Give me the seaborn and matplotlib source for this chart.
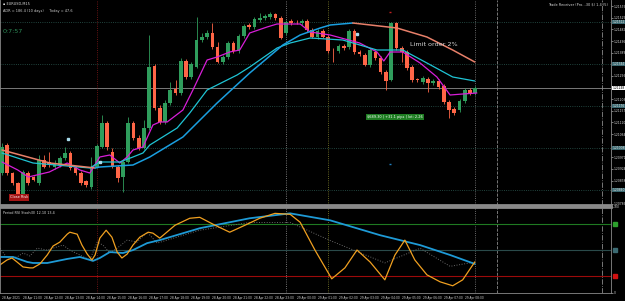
import numpy as np
import pandas as pd
import matplotlib.pyplot as plt
import seaborn as sns

# EURUSD M15 candles (28 Apr 10:00 -> 29 Apr 08:30)
opens = [1.20908, 1.21020, 1.20908, 1.20868, 1.20820, 1.20908, 1.20892, 1.20868, 1.20960, 1.20952,
         1.20932, 1.20940, 1.20968, 1.20988, 1.20928, 1.20908, 1.20876, 1.20852, 1.20932, 1.21012,
         1.21108, 1.20992, 1.20932, 1.20892, 1.20952, 1.21108, 1.21048, 1.21008, 1.21088, 1.21336,
         1.21168, 1.21112, 1.21188, 1.21244, 1.21228, 1.21356, 1.21292, 1.21332, 1.21440, 1.21452,
         1.21468, 1.21412, 1.21352, 1.21372, 1.21428, 1.21396, 1.21456, 1.21500, 1.21492, 1.21520,
         1.21528, 1.21532, 1.21544, 1.21528, 1.21468, 1.21516, 1.21512, 1.21508, 1.21516, 1.21480,
         1.21452, 1.21476, 1.21452, 1.21400, 1.21396, 1.21416, 1.21412, 1.21476, 1.21392, 1.21380,
         1.21340, 1.21392, 1.21368, 1.21312, 1.21280, 1.21508, 1.21408, 1.21392, 1.21332, 1.21282,
         1.21272, 1.21284, 1.21268, 1.21276, 1.21256, 1.21192, 1.21164, 1.21160, 1.21196, 1.21240,
         1.21228]
highs = [1.21028, 1.21028, 1.20912, 1.20872, 1.20920, 1.20916, 1.20896, 1.20980, 1.20980, 1.20992,
         1.20960, 1.20976, 1.21012, 1.20996, 1.20936, 1.20916, 1.20880, 1.20972, 1.21024, 1.21140,
         1.21116, 1.21008, 1.20940, 1.20960, 1.21132, 1.21116, 1.21060, 1.21120, 1.21460, 1.21344,
         1.21180, 1.21200, 1.21272, 1.21280, 1.21368, 1.21364, 1.21352, 1.21532, 1.21468, 1.21480,
         1.21508, 1.21432, 1.21380, 1.21436, 1.21436, 1.21464, 1.21504, 1.21508, 1.21532, 1.21548,
         1.21544, 1.21552, 1.21548, 1.21536, 1.21520, 1.21524, 1.21520, 1.21524, 1.21524, 1.21488,
         1.21484, 1.21484, 1.21460, 1.21408, 1.21424, 1.21424, 1.21484, 1.21484, 1.21400, 1.21388,
         1.21408, 1.21400, 1.21376, 1.21320, 1.21512, 1.21512, 1.21416, 1.21400, 1.21340, 1.21288,
         1.21296, 1.21292, 1.21284, 1.21284, 1.21264, 1.21200, 1.21172, 1.21204, 1.21248, 1.21248,
         1.21256]
lows = [1.20900, 1.20900, 1.20860, 1.20808, 1.20816, 1.20860, 1.20876, 1.20860, 1.20928, 1.20932,
        1.20924, 1.20932, 1.20960, 1.20920, 1.20900, 1.20860, 1.20852, 1.20844, 1.20928, 1.21008,
        1.21000, 1.20928, 1.20872, 1.20832, 1.20948, 1.21040, 1.21000, 1.21004, 1.21080, 1.21160,
        1.21104, 1.21104, 1.21180, 1.21220, 1.21220, 1.21284, 1.21284, 1.21328, 1.21432, 1.21444,
        1.21404, 1.21348, 1.21344, 1.21364, 1.21388, 1.21388, 1.21448, 1.21484, 1.21484, 1.21512,
        1.21520, 1.21524, 1.21520, 1.21444, 1.21460, 1.21500, 1.21504, 1.21500, 1.21472, 1.21448,
        1.21444, 1.21448, 1.21388, 1.21352, 1.21388, 1.21400, 1.21404, 1.21384, 1.21376, 1.21336,
        1.21332, 1.21360, 1.21304, 1.21240, 1.21276, 1.21400, 1.21352, 1.21320, 1.21272, 1.21272,
        1.21264, 1.21232, 1.21260, 1.21244, 1.21184, 1.21128, 1.21140, 1.21152, 1.21188, 1.21220,
        1.21220]
closes = [1.21012, 1.20908, 1.20868, 1.20812, 1.20912, 1.20868, 1.20880, 1.20960, 1.20932, 1.20944,
          1.20948, 1.20968, 1.20988, 1.20928, 1.20908, 1.20868, 1.20860, 1.20932, 1.21016, 1.21108,
          1.21012, 1.20932, 1.20888, 1.20952, 1.21108, 1.21048, 1.21008, 1.21088, 1.21332, 1.21168,
          1.21112, 1.21188, 1.21240, 1.21228, 1.21356, 1.21292, 1.21344, 1.21440, 1.21452, 1.21468,
          1.21412, 1.21352, 1.21372, 1.21428, 1.21396, 1.21456, 1.21496, 1.21492, 1.21524, 1.21528,
          1.21536, 1.21544, 1.21528, 1.21448, 1.21512, 1.21508, 1.21510, 1.21516, 1.21480, 1.21452,
          1.21476, 1.21452, 1.21396, 1.21398, 1.21416, 1.21408, 1.21476, 1.21392, 1.21384, 1.21340,
          1.21400, 1.21368, 1.21312, 1.21276, 1.21508, 1.21408, 1.21392, 1.21328, 1.21280, 1.21280,
          1.21288, 1.21268, 1.21276, 1.21252, 1.21192, 1.21160, 1.21148, 1.21196, 1.21240, 1.21228,
          1.21248]

# moving averages (candle index, price)
fast_x = [0, 3, 5, 9, 12.4, 14.8, 16.7, 18.6, 20.5, 22.4, 23.8, 24.9, 26.8, 28.7, 30, 31.4, 34.4, 36.3,
          39, 40.9, 43.3, 45.2, 47.1, 50.4, 52.3, 56.7, 58.6, 62.4, 68, 71.3, 72.6, 73.8, 76.2, 79.5,
          82.7, 85.2, 87.6, 90.3]
fast_y = [1.20952, 1.20920, 1.20892, 1.20912, 1.20948, 1.20920, 1.20908, 1.20972, 1.20980, 1.20948,
          1.20972, 1.21000, 1.21012, 1.21100, 1.21112, 1.21112, 1.21160, 1.21240, 1.21360, 1.21372,
          1.21392, 1.21400, 1.21468, 1.21492, 1.21504, 1.21504, 1.21472, 1.21460, 1.21428, 1.21392,
          1.21356, 1.21392, 1.21392, 1.21348, 1.21292, 1.21220, 1.21224, 1.21228]
mid_x = [0, 5.9, 12.4, 16.7, 18.6, 22.4, 24.9, 26.8, 28.1, 33.3, 35.7, 39, 40.9, 44.7, 47.1, 52.3,
         54.8, 58.6, 64.8, 71.3, 76.2, 80.8, 85.7, 89.9]
mid_y = [1.20988, 1.20948, 1.20936, 1.20928, 1.20952, 1.20952, 1.20972, 1.20988, 1.21020, 1.21088,
         1.21148, 1.21240, 1.21260, 1.21300, 1.21332, 1.21408, 1.21428, 1.21448, 1.21440, 1.21400,
         1.21400, 1.21348, 1.21292, 1.21276]
slow_x = [0, 9.1, 17.7, 18.6, 24.9, 28.1, 34.4, 40.9, 47.1, 53.4, 56.7, 60.5, 62.4, 66.7, 75.1,
          80.8, 85.7, 89.9]
slow_y = [1.21000, 1.20948, 1.20928, 1.20932, 1.20940, 1.20972, 1.21052, 1.21188, 1.21308, 1.21420,
          1.21460, 1.21488, 1.21500, 1.21508, 1.21488, 1.21452, 1.21400, 1.21352]

# oscillator panel
osc_x = [-0.4, 0.95, 1.9, 2.85, 4.0, 5.3, 5.9, 7.2, 8.6, 9.7, 11.0, 12.4, 12.9, 14.3, 15.2, 16.2,
         17.1, 17.7, 18.6, 19.8, 20.9, 21.9, 22.8, 23.8, 24.9, 26.2, 27.8, 28.7, 30.0, 32.9, 35.7,
         37.6, 40.5, 43.3, 46.2, 49.0, 51.9, 54.8, 56.7, 59.5, 62.7, 65.2, 67.5, 70.0, 72.8, 74.7,
         76.6, 78.5, 80.8, 83.3, 85.7, 87.6, 89.9]
osc_v = [32.6, 38.4, 40.7, 36.1, 30.3, 29.2, 29.2, 33.8, 44.2, 54.6, 59.2, 68.4, 70.7, 68.4, 55.7,
         45.3, 38.4, 44.2, 63.8, 73.0, 64.9, 47.6, 40.7, 45.3, 55.7, 64.9, 70.7, 69.6, 63.8, 78.8,
         86.9, 88.0, 78.8, 70.7, 78.8, 86.9, 92.6, 91.5, 82.2, 50.0, 16.5, 29.2, 50.0, 36.0, 15.3,
         44.0, 61.5, 38.4, 21.1, 13.0, 8.4, 15.3, 36.1]
sig_x = [-0.4, 2.1, 4.8, 5.9, 8.6, 12.4, 14.8, 17.3, 18.6, 20.5, 23.0, 24.9, 27.6, 30.0, 37.6, 47.1,
         54.8, 62.4, 71.9, 79.5, 85.2, 89.9]
sig_v = [41.9, 41.9, 36.1, 34.9, 34.9, 39.6, 41.9, 37.3, 40.7, 47.6, 46.5, 49.9, 58.0, 61.5, 75.3,
         86.9, 92.6, 84.5, 67.2, 55.7, 44.2, 33.8]
dot_x = [-0.4, 0.95, 2.85, 4.0, 5.3, 6.7, 8.6, 9.7, 11.6, 12.9, 14.8, 16.7, 18.1, 19.2, 20.5, 21.9,
         23.8, 25.7, 27.6, 29.5, 37.6, 47.1, 54.8, 62.4, 72.8, 79.5, 85.2, 89.9]
dot_v = [52.2, 40.7, 41.9, 46.5, 43.0, 52.2, 49.9, 52.2, 55.7, 49.9, 44.2, 38.4, 59.2, 55.7, 46.5,
         52.2, 61.5, 59.2, 70.7, 58.0, 73.0, 82.0, 82.0, 61.0, 35.0, 52.0, 31.0, 36.0]

level_prices = [1.21512, 1.21344, 1.21176, 1.21008, 1.20840]
vlines = [(18, '#8b1a1a', ':'), (54, '#9a9a9a', ':'), (62, '#8a8a30', ':'),
          (90, '#8a8a8a', ':'), (94.1, '#8a8a8a', '--'), (114.1, '#8a8a8a', '-.')]
tick_pos = list(range(0, 89, 4))
tick_text = ['28 Apr 2021', '28 Apr 11:00', '28 Apr 12:00', '28 Apr 13:00', '28 Apr 14:00',
             '28 Apr 15:00', '28 Apr 16:00', '28 Apr 17:00', '28 Apr 18:00', '28 Apr 19:00',
             '28 Apr 20:00', '28 Apr 21:00', '28 Apr 22:00', '28 Apr 23:00', '29 Apr 00:00',
             '29 Apr 01:00', '29 Apr 02:00', '29 Apr 03:00', '29 Apr 04:00', '29 Apr 05:00',
             '29 Apr 06:00', '29 Apr 07:00', '29 Apr 08:00']

GREEN, RED = '#2f9d5c', '#ff6647'

sns.set_style('dark', rc={'axes.facecolor': 'black', 'figure.facecolor': 'black'})
plt.rcParams['font.family'] = ['DejaVu Sans']

W, H = 625, 301
fig = plt.figure(figsize=(6.25, 3.01), dpi=100)
ax = fig.add_axes([0, 1 - 205 / H, 611 / W, 205 / H])
ax2 = fig.add_axes([0, 1 - 293 / H, 611 / W, 86 / H])

df = pd.DataFrame({'open': opens, 'high': highs, 'low': lows, 'close': closes})
df['i'] = np.arange(len(df))
up = df['close'] >= df['open']
cols = np.where(up, GREEN, RED)
ax.vlines(df['i'], df['low'], df['high'], colors=cols, lw=0.6, zorder=3)
body_lo = np.minimum(df['open'], df['close'])
body_h = np.maximum((df['close'] - df['open']).abs(), 0.00003)
ax.bar(df['i'], body_h, bottom=body_lo, width=0.7, color=cols, lw=0, zorder=4)

for p in level_prices:
    ax.axhline(p, color='#2c5a52', lw=0.6, ls=':', zorder=1)
ax.axhline(closes[-1], color='#8c8c8c', lw=0.6, zorder=1)
for a in (ax, ax2):
    for x, c, ls in vlines:
        a.axvline(x, color=c, lw=0.6, ls=ls, zorder=1)

sns.lineplot(x=fast_x, y=fast_y, ax=ax, color='#d81ed8', lw=0.9, estimator=None, zorder=5)
sns.lineplot(x=mid_x, y=mid_y, ax=ax, color='#1fc4d4', lw=0.9, estimator=None, zorder=5)
d = np.sign(np.diff(slow_y))
start = 0
for k in range(1, len(d) + 1):
    if k == len(d) or d[k] != d[start]:
        seg = slice(start, k + 1)
        c = '#1a9fe0' if d[start] > 0 else '#e8806a'
        sns.lineplot(x=slow_x[seg], y=slow_y[seg], ax=ax, color=c, lw=1.1, estimator=None, zorder=5)
        start = k

ax.set_xlim(-0.38, 115.8)
ax.set_ylim(1.20780, 1.21600)
ax.set_xticks([])
ax.yaxis.tick_right()
boxed = level_prices + [closes[-1]]
yt = [v for v in np.arange(1.21575, 1.2078, -0.000465)
      if min(abs(v - b) for b in boxed) > 0.00016]
ax.set_yticks(yt)
ax.set_yticklabels([f'{v:.5f}' for v in yt])
ax.tick_params(axis='y', colors='#d8d8d8', labelsize=2.2, length=1.2, width=0.4, pad=0.5)
ax.grid(False)

# right side price boxes
yt_tr = ax.get_yaxis_transform()
for p in level_prices:
    ax.text(1.002, p, f'{p:.5f}', transform=yt_tr, fontsize=2.2, color='#dddddd', va='center',
            ha='left', bbox=dict(boxstyle='square,pad=0.15', fc='#3b6a72', ec='none'), zorder=8)
ax.text(1.002, closes[-1], f'{closes[-1]:.5f}', transform=yt_tr, fontsize=2.2, color='black',
        va='center', ha='left', bbox=dict(boxstyle='square,pad=0.15', fc='white', ec='none'), zorder=8)

# small markers
ax.plot([12.6, 67.5, 18.6], [1.21044, 1.21464, 1.20952], marker='s', ms=1.6, ls='none',
        color='#a8dcec', zorder=6)
ax.plot([73.8], [1.21552], marker='_', ms=2, color='#c02020')
ax.plot([73.8], [1.20944], marker='_', ms=2, color='#2080c0')

ax.text(77.5, 1.21420, 'Limit order 2%', fontsize=4.6, color='#d4d4d4', va='center', zorder=7)
ax.text(69.4, 1.21132, '$689.30 | +31.1 pips | lot: 2.26', fontsize=2.5, color='white',
        va='center', bbox=dict(boxstyle='square,pad=0.25', fc='#1e7d22', ec='none'), zorder=7)
ax.text(1.5, 1.20810, 'Close Risk', fontsize=2.5, color='white', va='center',
        bbox=dict(boxstyle='square,pad=0.3', fc='#a51414', ec='none'), zorder=7)

for s in ax.spines.values():
    s.set_color('#8a8a8a')
    s.set_linewidth(0.6)
ax.spines['top'].set_visible(False)
ax.spines['bottom'].set_linewidth(2.0)

# oscillator
ax2.axhline(80, color='#1f7a22', lw=0.8)
ax2.axhline(50, color='#2a4a4a', lw=0.8)
ax2.axhline(20, color='#9c0a0a', lw=0.8)
sns.lineplot(x=dot_x, y=dot_v, ax=ax2, color='#6a6a6a', lw=0.7, ls=':', estimator=None)
sns.lineplot(x=sig_x, y=sig_v, ax=ax2, color='#1e9ad6', lw=1.3, estimator=None)
sns.lineplot(x=osc_x, y=osc_v, ax=ax2, color='#f0a020', lw=0.9, estimator=None)
ax2.set_xlim(-0.38, 115.8)
ax2.set_ylim(0, 100)
ax2.yaxis.tick_right()
ax2.set_yticks([100, 0])
ax2.set_yticklabels(['100', '0'])
ax2.tick_params(axis='y', colors='#d8d8d8', labelsize=2.2, length=1.2, width=0.4, pad=0.5)
ax2.set_xticks(tick_pos)
ax2.set_xticklabels(tick_text, ha='left')
ax2.tick_params(axis='x', colors='#d8d8d8', labelsize=2.1, length=1.5, width=0.4, pad=0.8)
ax2.grid(False)
ax2.set_xlabel('')
ax2.set_ylabel('')
ax.set_xlabel('')
ax.set_ylabel('')
tr2 = ax2.get_yaxis_transform()
for v, c in [(80, '#2ca02c'), (50, '#3b6a72'), (20, '#d01010')]:
    ax2.plot([1.006], [v], marker='s', ms=2.2, color=c, transform=tr2, clip_on=False)
for s in ax2.spines.values():
    s.set_color('#8a8a8a')
    s.set_linewidth(0.6)
ax2.spines['top'].set_linewidth(2.0)
ax2.text(0.005, 0.93, 'Period RSI Stoch(0) 12.10 13.4', transform=ax2.transAxes, fontsize=2.4,
         color='#d8d8d8', va='center')

# header texts
fig.text(3 / W, 1 - 4 / H, '\u25aa EURUSD,M15', fontsize=2.5, color='#d8d8d8', va='center')
fig.text(3 / W, 1 - 11 / H, 'ADR = 186.4 (10 days)     Today = 47.6', fontsize=2.5,
         color='#d0d0d0', va='center')
fig.text(3 / W, 1 - 31.5 / H, '0:7:57', fontsize=4.6, color='#2e8b57', va='center')
fig.text(608 / W, 1 - 4 / H, 'Trade Receiver (Pro...30 $) 1.4 (5)', fontsize=2.5,
         color='#d8d8d8', va='center', ha='right')

fig.savefig('out.png', dpi=100, facecolor='black')
